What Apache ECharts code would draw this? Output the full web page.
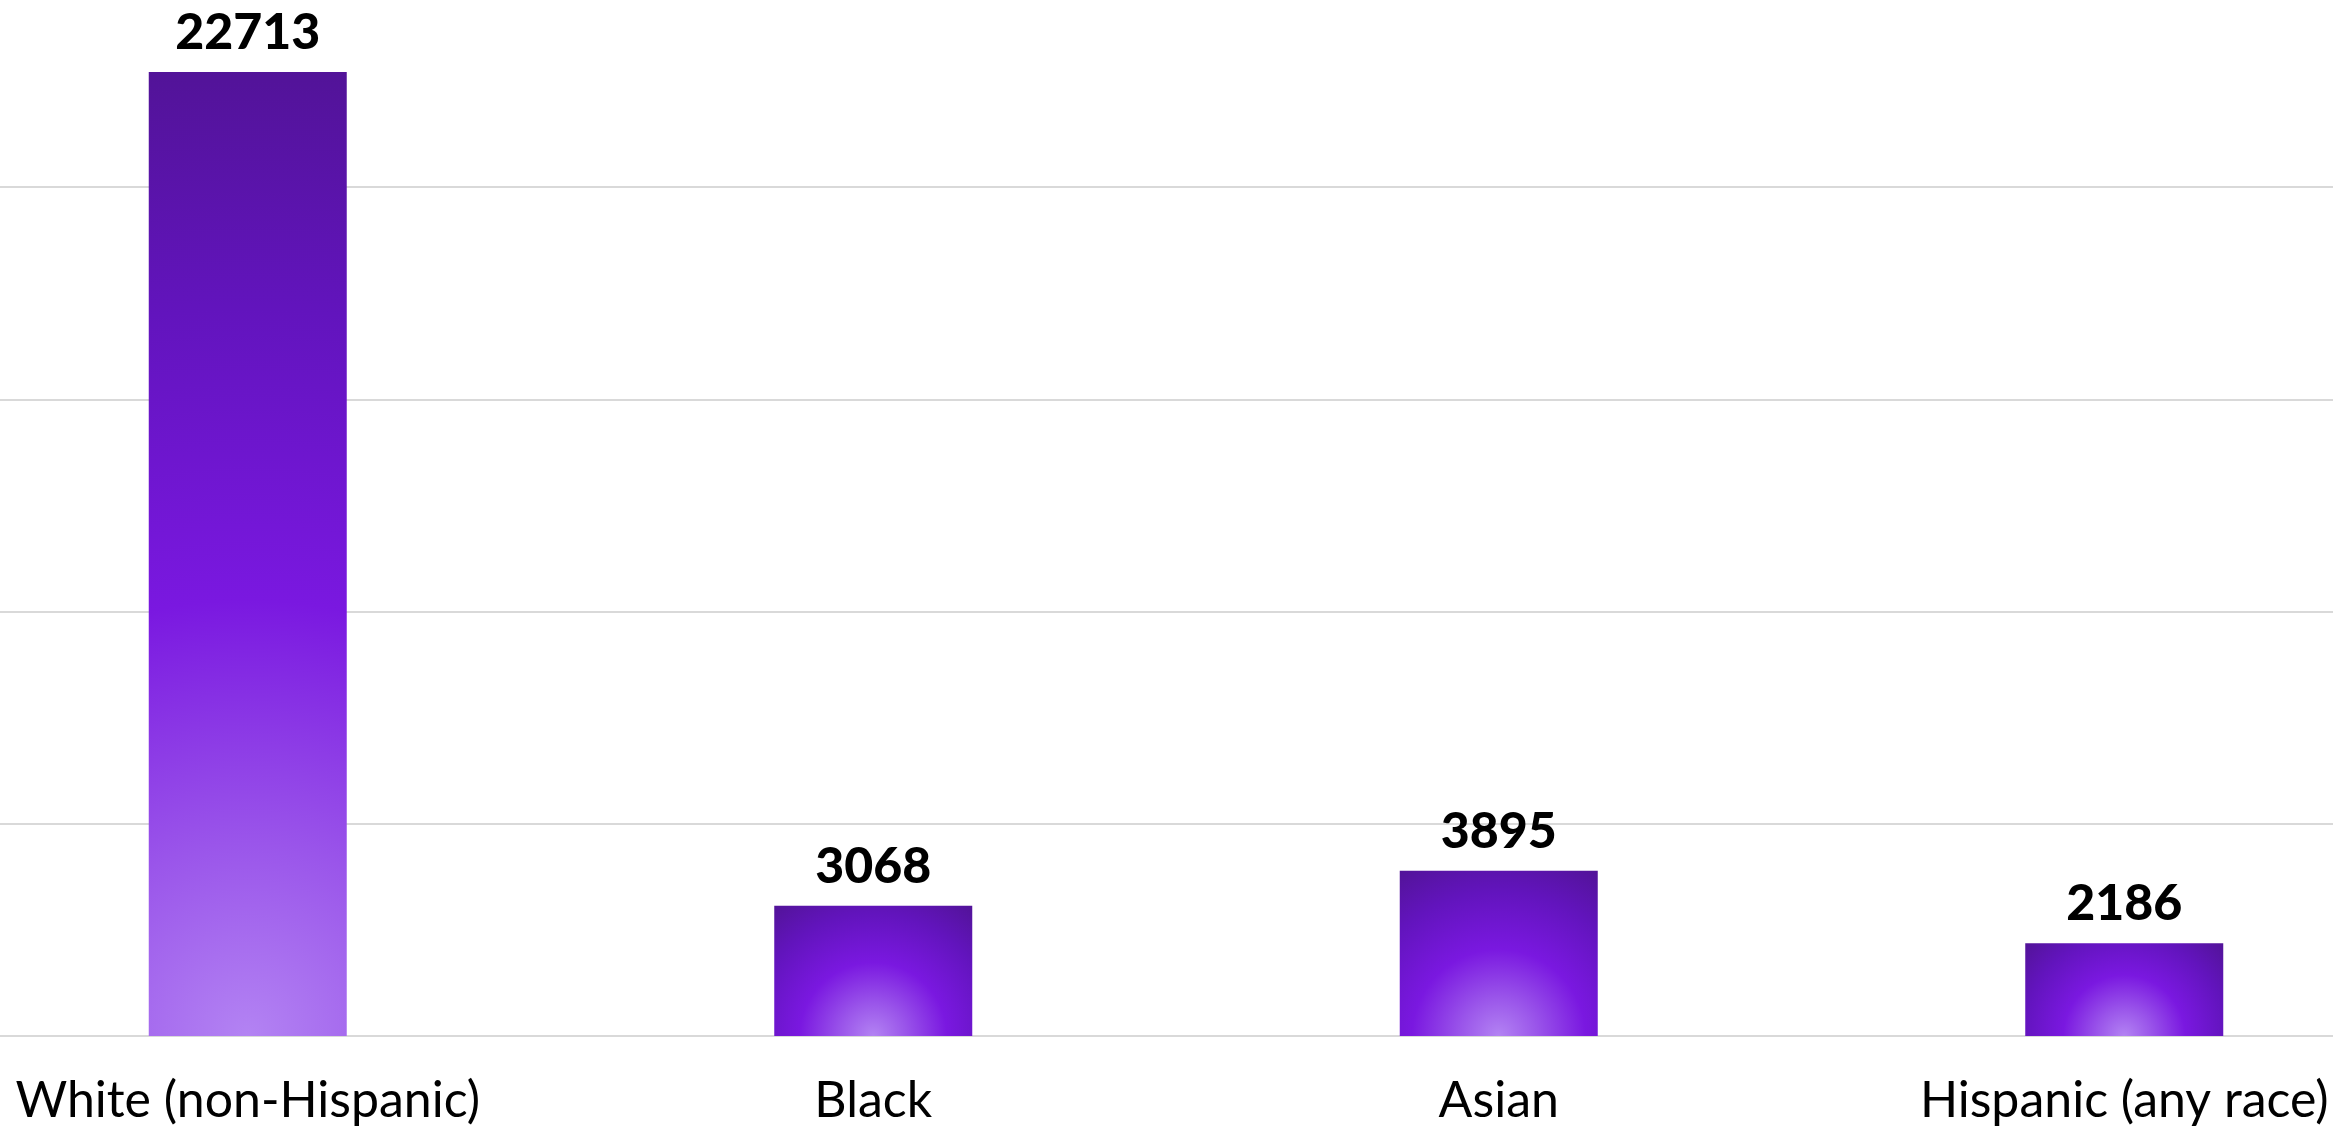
<!DOCTYPE html>
<html>
<head>
<meta charset="utf-8">
<script src="https://cdn.jsdelivr.net/npm/echarts@6/dist/echarts.min.js"></script>
<style>
html,body{margin:0;padding:0;background:#fff;overflow:hidden;width:2333px;height:1131px;position:relative;}
#chart{position:absolute;left:-65px;top:-25px;width:2502px;height:1156px;}
</style>
</head>
<body>
<div id="chart"></div>
<script>
const categories = ['White (non-Hispanic)', 'Black', 'Asian', 'Hispanic (any race)'];
const values = [22713, 3068, 3895, 2186];
const yTicks = [0, 5000, 10000, 15000, 20000, 25000];

const chart = echarts.init(document.getElementById('chart'), null, {renderer: 'canvas'});
const BAR_W = 198;

function baseOption(dataItems) {
  return {
    animation: false,
    backgroundColor: '#ffffff',
    grid: {left: 0, right: 0, top: 0, bottom: 95, containLabel: false},
    xAxis: {
      type: 'category',
      data: categories,
      axisLine: {show: false},
      axisTick: {show: false},
      axisLabel: {
        color: '#000000',
        fontFamily: 'Lato',
        fontSize: 50,
        margin: 40
      }
    },
    yAxis: {
      type: 'value',
      min: yTicks[0],
      max: yTicks[yTicks.length - 1],
      interval: yTicks[1] - yTicks[0],
      axisLine: {show: false},
      axisTick: {show: false},
      axisLabel: {show: false},
      splitLine: {lineStyle: {color: '#d9d9d9', width: 2}}
    },
    series: [{
      type: 'bar',
      data: dataItems,
      barWidth: BAR_W,
      itemStyle: {color: '#7a18e0'},
      label: {
        show: true,
        position: 'top',
        distance: 14,
        color: '#000000',
        fontFamily: 'Lato',
        fontWeight: 900,
        fontSize: 50
      }
    }]
  };
}

chart.setOption(baseOption(values.slice()));

// per-bar radial gradient centred at the bottom middle, reaching the far top corners
const items = values.map(function (v, i) {
  const top = chart.convertToPixel({seriesIndex: 0}, [i, v]);
  const base = chart.convertToPixel({seriesIndex: 0}, [i, 0]);
  const h = Math.abs(base[1] - top[1]);
  const w = BAR_W;
  const reach = Math.sqrt((w / 2) * (w / 2) + h * h);
  const r = reach / Math.min(w, h);
  return {
    value: v,
    itemStyle: {
      color: new echarts.graphic.RadialGradient(0.5, 1, r, [
        {offset: 0, color: '#b383f3'},
        {offset: 0.2, color: '#9a55ea'},
        {offset: 0.45, color: '#7a18e0'},
        {offset: 0.75, color: '#6214bd'},
        {offset: 1, color: '#521398'}
      ])
    }
  };
});

chart.setOption(baseOption(items));
</script>
</body>
</html>
